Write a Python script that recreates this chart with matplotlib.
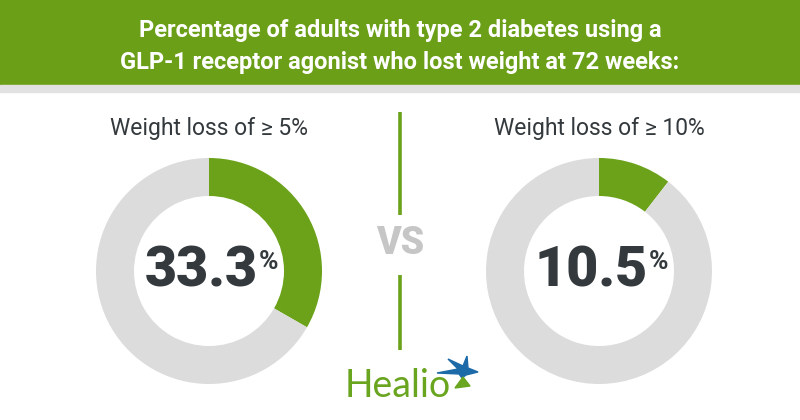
import matplotlib
matplotlib.use("Agg")
import matplotlib.pyplot as plt
from matplotlib.patches import Rectangle, Polygon

title_lines = ["Percentage of adults with type 2 diabetes using a",
               "GLP-1 receptor agonist who lost weight at 72 weeks:"]
labels = ["Weight loss of \u2265 5%", "Weight loss of \u2265 10%"]
values = [33.3, 10.5]
value_text = ["33.3", "10.5"]

green = "#6ba21a"
ring_gray = "#dcdcdc"
dark = "#33393c"
W, H = 800, 420

fig = plt.figure(figsize=(8, 4.2), dpi=100)
ax = fig.add_axes([0, 0, 1, 1])


def y(py):
    # pixel row (from top) -> data y
    return H - py


# header band
ax.add_patch(Rectangle((0, y(85)), W, 85, color="#6a9f17", zorder=1))
ax.add_patch(Rectangle((0, y(92)), W, 7, color="#e2e2e2", zorder=1))
for line, ly in zip(title_lines, [30, 62]):
    ax.text(400, y(ly), line, ha="center", va="center", color="white",
            fontsize=17, fontweight="bold", family="Roboto", zorder=2)

centers = [(209, 271), (599, 271)]
for (cx, cy), lab, v in zip(centers, labels, values):
    ax.pie([v, 100 - v], center=(cx, y(cy)), radius=113, startangle=90,
           counterclock=False, colors=[green, ring_gray],
           wedgeprops=dict(width=38, linewidth=0), frame=True)
    ax.text(cx, y(128), lab, ha="center", va="center", color=dark,
            fontsize=16.5, family="Roboto")

ax.set_xlim(0, W)
ax.set_ylim(0, H)
ax.set_aspect("equal")
ax.axis("off")

# big numbers with superscript percent sign
fig.canvas.draw()
for (cx, cy), vt in zip(centers, value_text):
    t = ax.text(cx - 8, y(271), vt, ha="center", va="center", color=dark,
                fontsize=40, fontweight="heavy", family="Roboto", zorder=3)
    bb = t.get_window_extent(renderer=fig.canvas.get_renderer())
    bb = bb.transformed(ax.transData.inverted())
    ax.text(bb.x1 + 1, y(262), "%", ha="left", va="center", color=dark,
            fontsize=19, fontweight="bold", family="Roboto", zorder=3)

# divider and VS
ax.plot([400, 400], [y(112), y(215)], color=green, lw=2.6, solid_capstyle="butt")
ax.plot([400, 400], [y(275), y(350)], color=green, lw=2.6, solid_capstyle="butt")
ax.text(400, y(244), "VS", ha="center", va="center", color="#c6c6c6",
        fontsize=27, fontweight="heavy", family="Roboto")

# Healio logo
ax.text(398, y(386), "Healio", ha="center", va="center", color="#6aa520",
        fontsize=27, family="Lato")
star = [(y_x[0], y(y_x[1])) for y_x in
        [(437, 373), (458, 369), (448, 359), (463, 366), (467, 356),
         (468, 368), (478, 372), (466, 375), (462, 378), (459, 374)]]
ax.add_patch(Polygon(star, closed=True, color="#1d6aa8", zorder=4))
ax.add_patch(Polygon([(463, y(377)), (470, y(386)), (455, y(388))],
                     closed=True, color="#6aa520", zorder=4))

fig.savefig("out.png", dpi=100, facecolor="white")
